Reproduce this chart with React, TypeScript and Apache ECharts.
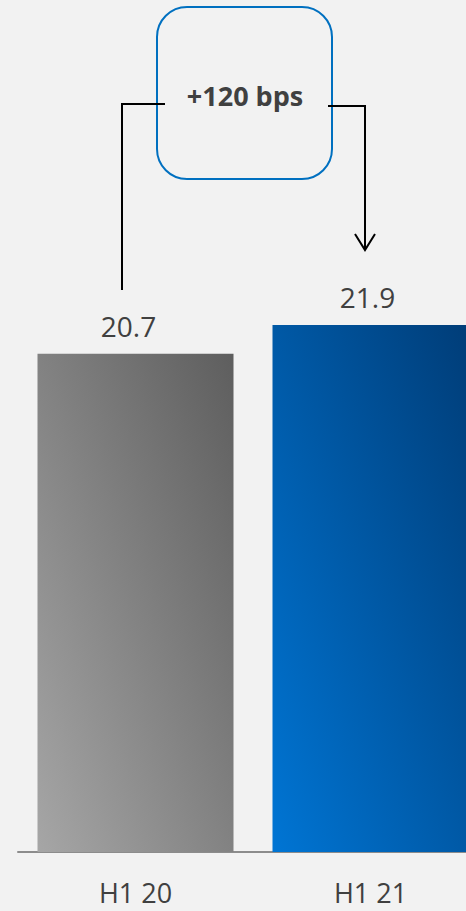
import React, { useEffect, useRef } from "react";
import * as echarts from "echarts";

const categories = ["H1 20", "H1 21"];
const values = [20.7, 21.9];
const changeLabel = "+120 bps";

const FONT = "'Open Sans', 'Noto Sans', sans-serif";

export default function App() {
  const ref = useRef<HTMLDivElement>(null);
  useEffect(() => {
    if (!ref.current) return;
    const chart = echarts.init(ref.current, undefined, { renderer: "svg" });
    const grayGrad = new echarts.graphic.LinearGradient(0, 1, 1, 0, [
      { offset: 0, color: "#a6a6a6" },
      { offset: 1, color: "#5e5e5e" },
    ]);
    const blueGrad = new echarts.graphic.LinearGradient(0, 1, 1, 0, [
      { offset: 0, color: "#0075d4" },
      { offset: 1, color: "#003d78" },
    ]);
    const colors = [grayGrad, blueGrad];
    const labelOffsets = [[-7, 0], [-3, 0]];
    chart.setOption({
      animation: false,
      backgroundColor: "#f2f2f2",
      grid: {
        left: 18,
        width: 470,
        top: 130,
        height: 722,
        containLabel: false,
        outerBoundsMode: "none",
      },
      xAxis: {
        type: "category",
        data: categories,
        axisLine: { show: true, lineStyle: { color: "#8c8c8c", width: 2 } },
        axisTick: { show: false },
        axisLabel: {
          color: "#404040",
          fontSize: 27,
          lineHeight: 26,
          fontFamily: FONT,
          margin: 27,
        },
      },
      yAxis: {
        type: "value",
        min: 0,
        max: 30,
        show: false,
        splitLine: { show: false },
      },
      series: [
        {
          type: "bar",
          barWidth: 196,
          data: values.map((v, i) => ({
            value: v,
            itemStyle: { color: colors[i] },
            label: { offset: labelOffsets[i] },
          })),
          label: {
            show: true,
            position: "top",
            distance: 14,
            color: "#404040",
            fontSize: 28,
            fontFamily: FONT,
          },
        },
      ],
      graphic: [
        {
          type: "rect",
          shape: { x: 157, y: 7, width: 175, height: 172, r: 30 },
          style: { fill: "#f2f2f2", stroke: "#0070c0", lineWidth: 2 },
        },
        {
          type: "text",
          x: 245,
          y: 95,
          style: {
            text: changeLabel,
            fill: "#404040",
            font: `bold 27px ${FONT}`,
            align: "center",
            verticalAlign: "middle",
          },
        },
        {
          type: "polyline",
          shape: { points: [[165, 104], [122, 104], [122, 290]] },
          style: { stroke: "#000", lineWidth: 2, fill: "none" },
        },
        {
          type: "polyline",
          shape: { points: [[328, 106], [365, 106], [365, 250]] },
          style: { stroke: "#000", lineWidth: 2, fill: "none" },
        },
        {
          type: "polyline",
          shape: { points: [[355, 234], [365, 250], [375, 234]] },
          style: { stroke: "#000", lineWidth: 2, fill: "none" },
        },
      ],
    });
    return () => chart.dispose();
  }, []);
  return (
    <div
      style={{
        position: "absolute",
        left: 0,
        top: 0,
        width: 466,
        height: 911,
        overflow: "hidden",
        background: "#f2f2f2",
      }}
    >
      <div ref={ref} style={{ width: 500, height: 911 }} />
    </div>
  );
}
